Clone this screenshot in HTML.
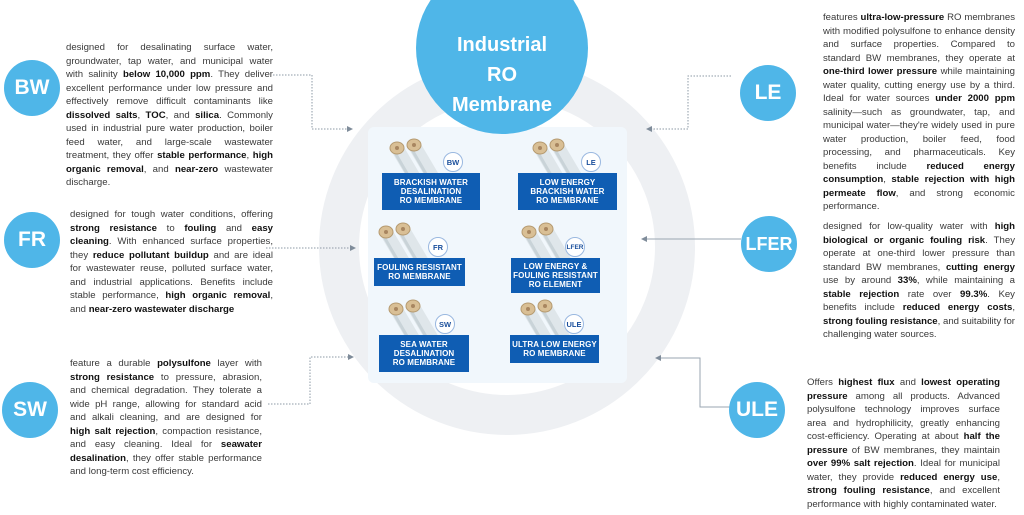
<!DOCTYPE html>
<html><head><meta charset="utf-8"><style>
*{margin:0;padding:0;box-sizing:border-box}
body{width:1024px;height:515px;background:#fff;position:relative;overflow:hidden;font-family:"Liberation Sans",Arial,sans-serif;color:#333}
.t{position:absolute;font-size:9.6px;line-height:13.5px;text-align:justify;color:#3a3a3a}
.t b{color:#111}
.c{position:absolute;border-radius:50%;background:#4fb6e8;color:#fff;font-weight:bold;display:flex;align-items:center;justify-content:center;font-size:21px}
.box{position:absolute;background:#0f5db3;color:#fff;font-weight:bold;font-size:8px;line-height:9.3px;text-align:center;display:flex;align-items:center;justify-content:center;flex-direction:column;letter-spacing:0.1px}
.bd{position:absolute;width:20px;height:20px;border-radius:50%;border:1.2px solid #9ab8e0;background:#fff;color:#1a4f9c;font-weight:bold;font-size:7.5px;display:flex;align-items:center;justify-content:center}
</style></head><body>
<svg width="1024" height="515" style="position:absolute;left:0;top:0">
<defs>
<g id="tube">
<line x1="0" y1="0" x2="26" y2="44" stroke="#dfe6ea" stroke-width="13"/>
<line x1="-3" y1="3" x2="22" y2="46" stroke="#c9d3d8" stroke-width="3"/>
<ellipse cx="0" cy="0" rx="7" ry="6" fill="#d9bf95" stroke="#b59a70" stroke-width="1"/>
<circle cx="0" cy="0" r="2" fill="#a88660"/>
</g>
<g id="pair"><use href="#tube"/><use href="#tube" x="17" y="-3"/></g>
<marker id="ar" markerWidth="6" markerHeight="6" refX="5" refY="3" orient="auto"><path d="M0,0 L6,3 L0,6 z" fill="#7f8c9a"/></marker>
</defs>
<circle cx="507" cy="247" r="168" fill="none" stroke="#eef0f3" stroke-width="40"/>
<rect x="368" y="127" width="259" height="256" rx="6" fill="#f1f7fc"/>
<g fill="none" stroke="#8d99a6" stroke-width="1" stroke-dasharray="1.5,1.5" marker-end="url(#ar)">
<path d="M273,75 H312 V129 H352"/>
<path d="M731,76 H688 V129 H647"/>
<path d="M266,248 H355"/>
<path d="M268,404 H310 V357 H353"/>
</g>
<g fill="none" stroke="#9aa6b2" stroke-width="1" marker-end="url(#ar)">
<path d="M741,239 H642"/>
<path d="M730,407 H700 V358 H656"/>
</g>
<g clip-path="none">
<use href="#pair" x="397" y="148"/>
<use href="#pair" x="540" y="148"/>
<use href="#pair" x="386" y="232"/>
<use href="#pair" x="529" y="232"/>
<use href="#pair" x="396" y="309"/>
<use href="#pair" x="528" y="309"/>
</g>
<circle cx="502" cy="48" r="86" fill="#4fb6e8"/>
</svg>
<div style="position:absolute;left:416px;top:30px;width:172px;text-align:center;color:#fff;font-weight:bold;font-size:20px;line-height:30px">Industrial<br>RO<br>Membrane</div>

<div class="box" style="left:382px;top:173px;width:98px;height:37px">BRACKISH WATER<br>DESALINATION<br>RO MEMBRANE</div>
<div class="box" style="left:518px;top:173px;width:99px;height:37px">LOW ENERGY<br>BRACKISH WATER<br>RO MEMBRANE</div>
<div class="box" style="left:374px;top:258px;width:91px;height:28px">FOULING RESISTANT<br>RO MEMBRANE</div>
<div class="box" style="left:511px;top:258px;width:89px;height:35px">LOW ENERGY &amp;<br>FOULING RESISTANT<br>RO ELEMENT</div>
<div class="box" style="left:379px;top:335px;width:90px;height:37px">SEA WATER<br>DESALINATION<br>RO MEMBRANE</div>
<div class="box" style="left:510px;top:335px;width:89px;height:28px">ULTRA LOW ENERGY<br>RO MEMBRANE</div>
<div class="bd" style="left:443px;top:152px">BW</div>
<div class="bd" style="left:581px;top:152px">LE</div>
<div class="bd" style="left:428px;top:237px">FR</div>
<div class="bd" style="left:565px;top:237px;font-size:6.5px">LFER</div>
<div class="bd" style="left:435px;top:314px">SW</div>
<div class="bd" style="left:564px;top:314px">ULE</div>

<div class="c" style="left:4px;top:60px;width:56px;height:56px">BW</div>
<div class="c" style="left:4px;top:212px;width:56px;height:56px">FR</div>
<div class="c" style="left:2px;top:382px;width:56px;height:56px">SW</div>
<div class="c" style="left:740px;top:65px;width:56px;height:56px">LE</div>
<div class="c" style="left:741px;top:216px;width:56px;height:56px;font-size:18px">LFER</div>
<div class="c" style="left:729px;top:382px;width:56px;height:56px">ULE</div>

<div class="t" style="left:66px;top:41px;width:207px">designed for desalinating surface water, groundwater, tap water, and municipal water with salinity <b>below 10,000 ppm</b>. They deliver excellent performance under low pressure and effectively remove difficult contaminants like <b>dissolved salts</b>, <b>TOC</b>, and <b>silica</b>. Commonly used in industrial pure water production, boiler feed water, and large-scale wastewater treatment, they offer <b>stable performance</b>, <b>high organic removal</b>, and <b>near-zero</b> wastewater discharge.</div>
<div class="t" style="left:70px;top:208px;width:203px">designed for tough water conditions, offering <b>strong resistance</b> to <b>fouling</b> and <b>easy cleaning</b>. With enhanced surface properties, they <b>reduce pollutant buildup</b> and are ideal for wastewater reuse, polluted surface water, and industrial applications. Benefits include stable performance, <b>high organic removal</b>, and <b>near-zero wastewater discharge</b></div>
<div class="t" style="left:70px;top:357px;width:192px">feature a durable <b>polysulfone</b> layer with <b>strong resistance</b> to pressure, abrasion, and chemical degradation. They tolerate a wide pH range, allowing for standard acid and alkali cleaning, and are designed for <b>high salt rejection</b>, compaction resistance, and easy cleaning. Ideal for <b>seawater desalination</b>, they offer stable performance and long-term cost efficiency.</div>
<div class="t" style="left:823px;top:11px;width:192px">features <b>ultra-low-pressure</b> RO membranes with modified polysulfone to enhance density and surface properties. Compared to standard BW membranes, they operate at <b>one-third lower pressure</b> while maintaining water quality, cutting energy use by a third. Ideal for water sources <b>under 2000 ppm</b> salinity—such as groundwater, tap, and municipal water—they're widely used in pure water production, boiler feed, food processing, and pharmaceuticals. Key benefits include <b>reduced energy consumption</b>, <b>stable rejection with high permeate flow</b>, and strong economic performance.</div>
<div class="t" style="left:823px;top:220px;width:192px">designed for low-quality water with <b>high biological or organic fouling risk</b>. They operate at one-third lower pressure than standard BW membranes, <b>cutting energy</b> use by around <b>33%</b>, while maintaining a <b>stable rejection</b> rate over <b>99.3%</b>. Key benefits include <b>reduced energy costs</b>, <b>strong fouling resistance</b>, and suitability for challenging water sources.</div>
<div class="t" style="left:807px;top:376px;width:193px">Offers <b>highest flux</b> and <b>lowest operating pressure</b> among all products. Advanced polysulfone technology improves surface area and hydrophilicity, greatly enhancing cost-efficiency. Operating at about <b>half the pressure</b> of BW membranes, they maintain <b>over 99% salt rejection</b>. Ideal for municipal water, they provide <b>reduced energy use</b>, <b>strong fouling resistance</b>, and excellent performance with highly contaminated water.</div>
</body></html>
